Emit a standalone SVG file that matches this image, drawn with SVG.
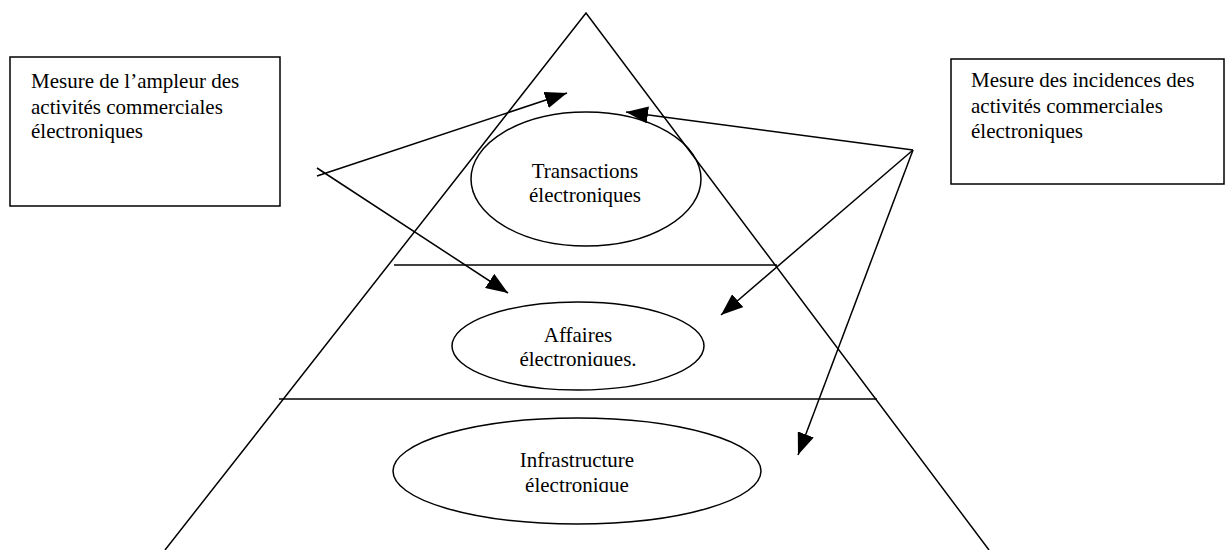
<svg xmlns="http://www.w3.org/2000/svg" width="1226" height="550" viewBox="0 0 1226 550">
<style>
.ln{stroke:#000;stroke-width:1.5;fill:none}
.ar{stroke:#000;stroke-width:1.5;fill:none;marker-end:url(#ah)}
.t{font-family:"Liberation Serif","Times New Roman",serif;font-size:21px;fill:#000}
.c{text-anchor:middle}
</style>
<defs>
<marker id="ah" viewBox="0 0 22 17" refX="22" refY="8.5" markerWidth="22" markerHeight="17" markerUnits="userSpaceOnUse" orient="auto">
<path d="M0,0 L22,8.5 L0,17 Z" fill="#000"/>
</marker>
<clipPath id="cA"><rect x="440" y="300" width="280" height="66"/></clipPath>
<clipPath id="cI"><rect x="390" y="420" width="380" height="72"/></clipPath>
</defs>
<rect width="1226" height="550" fill="#fff"/>
<g id="pyramid">
<polyline class="ln" points="165,550 586,13 989,550"/>
<line class="ln" x1="394" y1="265" x2="777" y2="265"/>
<line class="ln" x1="279" y1="399" x2="877" y2="399"/>
</g>
<g id="box-ampleur">
<rect class="ln" x="10" y="57" width="270" height="149"/>
<text class="t" x="31" y="88">Mesure de l’ampleur des</text>
<text class="t" x="31" y="114">activités commerciales</text>
<text class="t" x="31" y="138">électroniques</text>
</g>
<g id="box-incidences">
<rect class="ln" x="951" y="59" width="273" height="125"/>
<text class="t" x="971" y="87">Mesure des incidences des</text>
<text class="t" x="971" y="113">activités commerciales</text>
<text class="t" x="971" y="138">électroniques</text>
</g>
<g id="transactions">
<ellipse class="ln" cx="586" cy="179" rx="115" ry="67"/>
<text class="t c" x="585" y="178">Transactions</text>
<text class="t c" x="585" y="202">électroniques</text>
</g>
<g id="affaires">
<ellipse class="ln" cx="578" cy="346" rx="126" ry="44"/>
<g clip-path="url(#cA)">
<text class="t c" x="578" y="342">Affaires</text>
<text class="t c" x="578" y="366">électroniques.</text>
</g>
</g>
<g id="infrastructure">
<ellipse class="ln" cx="577" cy="471" rx="184" ry="53"/>
<g clip-path="url(#cI)">
<text class="t c" x="577" y="467">Infrastructure</text>
<text class="t c" x="577" y="492">électronique</text>
</g>
</g>
<g id="connectors">
<line class="ar" x1="317" y1="176" x2="567" y2="93"/>
<line class="ar" x1="317" y1="168" x2="508" y2="293"/>
<line class="ar" x1="913" y1="150" x2="626" y2="112"/>
<line class="ar" x1="913" y1="150" x2="721" y2="315"/>
<line class="ar" x1="913" y1="150" x2="798" y2="455"/>
</g>
</svg>
